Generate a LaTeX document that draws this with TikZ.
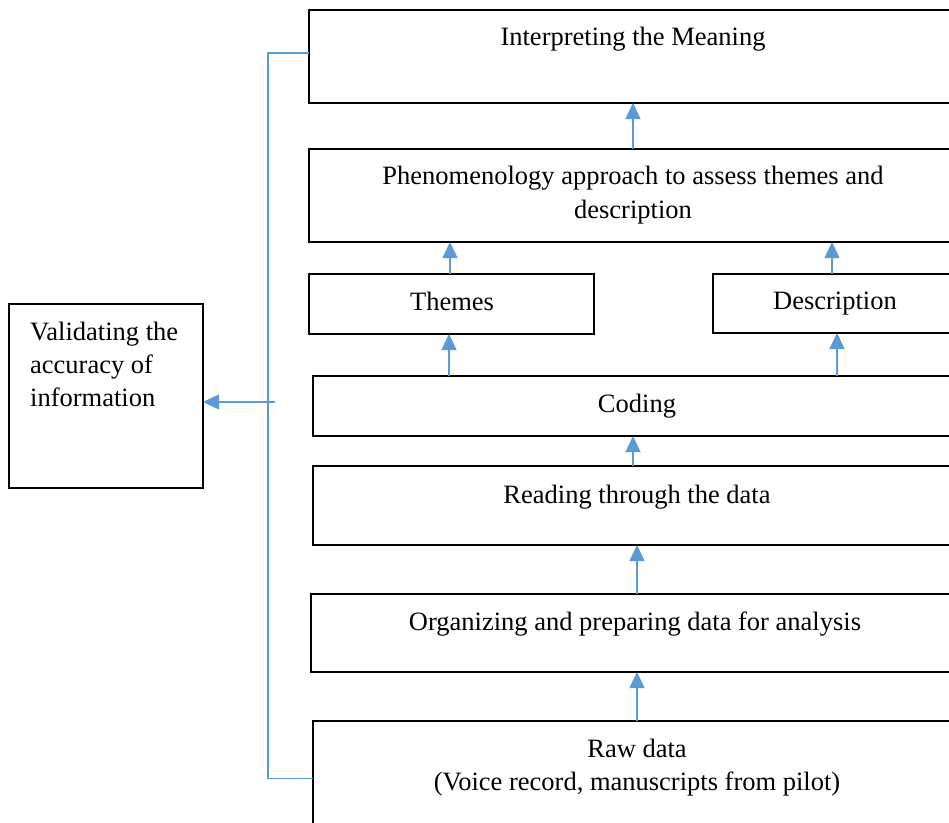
\documentclass[tikz,border=0pt]{standalone}
\usepackage{fontspec}
\setmainfont{Liberation Serif}
\usetikzlibrary{arrows.meta}
\definecolor{arrblue}{HTML}{5B9BD5}
\begin{document}
\begin{tikzpicture}[x=1pt,y=-1pt,
  box/.style={draw=black,line width=1.2pt,rectangle,inner sep=0pt,outer sep=0pt,anchor=north west},
  txt/.style={inner sep=0pt,anchor=base,font=\fontsize{26.5}{30}\selectfont},
  arr/.style={draw=arrblue,line width=1.4pt,-{Triangle[width=15pt,length=16pt]}},
  blueline/.style={draw=arrblue,line width=1.4pt}]
\clip (0,0) rectangle (949,822);
\fill[white] (0,0) rectangle (949,822);
% boxes
\node[box,minimum width=660pt,minimum height=93pt] (interp) at (309,10) {};
\node[box,minimum width=660pt,minimum height=93pt] (phen) at (309,149) {};
\node[box,minimum width=285pt,minimum height=60pt] (themes) at (309,274) {};
\node[box,minimum width=260pt,minimum height=59pt] (desc) at (713,274) {};
\node[box,minimum width=660pt,minimum height=60pt] (coding) at (313,376) {};
\node[box,minimum width=660pt,minimum height=79pt] (reading) at (313,466) {};
\node[box,minimum width=660pt,minimum height=78pt] (org) at (311,594) {};
\node[box,minimum width=660pt,minimum height=120pt] (raw) at (313,721) {};
\node[box,minimum width=194pt,minimum height=184pt] (valid) at (9,304) {};
% texts
\node[txt] (tinterp) at (633,45) {Interpreting the Meaning};
\node[txt] (tphen1) at (633,184) {Phenomenology approach to assess themes and};
\node[txt] (tphen2) at (633,218) {description};
\node[txt] (tthemes) at (452,310) {Themes};
\node[txt] (tdesc) at (835,309) {Description};
\node[txt] (tcoding) at (637,412) {Coding};
\node[txt] (treading) at (637,503) {Reading through the data};
\node[txt] (torg) at (635,630) {Organizing and preparing data for analysis};
\node[txt] (traw1) at (637,757) {Raw data};
\node[txt] (traw2) at (637,790) {(Voice record, manuscripts from pilot)};
\node[txt,anchor=base west] (tval1) at (30,340) {Validating the};
\node[txt,anchor=base west] (tval2) at (30,373) {accuracy of};
\node[txt,anchor=base west] (tval3) at (30,406) {information};
% column coordinates
\coordinate (c1) at (637,0);
\coordinate (c2) at (633,0);
\coordinate (c3) at (449,0);
\coordinate (c4) at (837,0);
\coordinate (c5) at (450,0);
\coordinate (c6) at (832,0);
% arrows
\draw[arr] (raw.north -| c1) -- (org.south -| c1);
\draw[arr] (org.north -| c1) -- (reading.south -| c1);
\draw[arr] (reading.north -| c2) -- (coding.south -| c2);
\draw[arr] (coding.north -| c3) -- (themes.south -| c3);
\draw[arr] (coding.north -| c4) -- (desc.south -| c4);
\draw[arr] (themes.north -| c5) -- (phen.south -| c5);
\draw[arr] (desc.north -| c6) -- (phen.south -| c6);
\draw[arr] (phen.north -| c2) -- (interp.south -| c2);
% bracket
\coordinate (bx) at (268,400);
\coordinate (ah) at (275,402);
\draw[blueline] ([yshift=3.5pt]interp.west) -| (bx) |- ([yshift=2.5pt]raw.west);
\draw[arr] (ah) -- (valid.east |- ah);
\end{tikzpicture}
\end{document}
